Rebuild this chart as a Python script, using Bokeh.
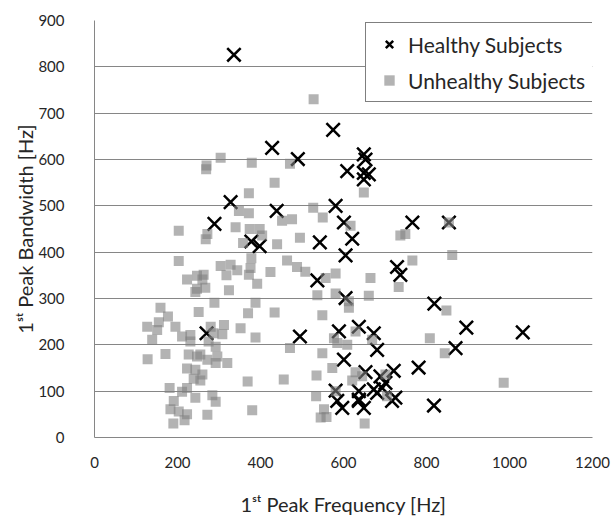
from bokeh.plotting import figure
from bokeh.models import Range1d, FixedTicker, Legend, LegendItem
from bokeh.embed import file_html
from bokeh.resources import INLINE

# Healthy subjects: 1st peak frequency [Hz], 1st peak bandwidth [Hz]
healthy_freq = [336, 575, 428, 490, 328, 439, 581, 289, 378, 398, 543, 537, 270, 495,
                649, 653, 649, 661, 649, 609, 601, 766, 854, 621, 605, 729, 737, 605,
                819, 896, 1032, 589, 637, 673, 681, 870, 601, 653, 689, 721, 781, 581,
                637, 673, 693, 585, 597, 637, 649, 725, 717, 818, 637, 681, 701]
healthy_bw = [826, 664, 625, 601, 508, 489, 500, 461, 423, 413, 421, 339, 225, 218,
              611, 600, 571, 568, 557, 575, 464, 464, 464, 429, 393, 368, 351, 301,
              289, 237, 227, 229, 239, 225, 189, 193, 168, 141, 132, 144, 151, 101,
              100, 104, 107, 79, 64, 82, 64, 86, 79, 69, 79, 96, 118]

# Unhealthy subjects
unhealthy_freq = [528, 304, 270, 269, 379, 471, 434, 372, 348, 372, 527, 550, 452, 476,
                  203, 340, 374, 398, 268, 404, 358, 440, 495, 203, 378, 304, 328, 344,
                  318, 376, 372, 424, 464, 488, 508, 557, 581, 223, 247, 263, 260, 247,
                  267, 243, 324, 392, 289, 388, 370, 434, 251, 159, 177, 155, 127, 151,
                  139, 195, 211, 231, 231, 280, 312, 308, 287, 352, 388, 275, 292, 471,
                  549, 128, 171, 227, 247, 255, 272, 296, 320, 223, 243, 239, 255, 260,
                  292, 369, 456, 535, 573, 181, 223, 211, 243, 284, 292, 191, 183, 203,
                  223, 190, 217, 272, 380, 534, 581, 553, 545, 559, 649, 617, 749, 737,
                  862, 766, 665, 733, 581, 613, 613, 661, 848, 585, 609, 629, 669, 808,
                  844, 629, 701, 621, 986, 705, 651, 537, 549, 577, 645, 854, 272]
unhealthy_bw = [730, 604, 587, 579, 593, 591, 550, 527, 489, 484, 496, 475, 468, 471,
                446, 454, 450, 450, 428, 436, 420, 417, 431, 381, 387, 370, 373, 361,
                350, 366, 351, 357, 382, 368, 358, 344, 354, 341, 349, 351, 341, 321,
                323, 314, 318, 332, 291, 291, 268, 270, 271, 280, 261, 249, 239, 232,
                211, 239, 218, 221, 207, 239, 243, 223, 225, 236, 216, 207, 196, 193,
                182, 169, 180, 179, 175, 179, 168, 175, 161, 149, 146, 127, 123, 136,
                161, 121, 125, 134, 150, 107, 107, 99, 86, 91, 77, 79, 61, 56,
                50, 30, 37, 49, 59, 89, 100, 61, 43, 44, 529, 457, 439, 436,
                394, 382, 344, 325, 311, 294, 280, 306, 274, 204, 200, 229, 211, 214,
                182, 141, 136, 123, 118, 89, 30, 307, 264, 214, 132, 464, 439]

x_ticks = [0, 200, 400, 600, 800, 1000, 1200]
y_ticks = [0, 100, 200, 300, 400, 500, 600, 700, 800, 900]

FONT = "Lato"
TXT = "#262626"
GRID = "#868686"

p = figure(width=612, height=518, output_backend="svg", toolbar_location=None,
           x_range=Range1d(0, 1200), y_range=Range1d(0, 900),
           min_border_left=94, min_border_right=20, min_border_top=20, min_border_bottom=78)
p.outline_line_color = None
p.background_fill_color = "white"
p.border_fill_color = "white"

p.xgrid.visible = False
p.ygrid.grid_line_color = GRID
p.ygrid.grid_line_width = 1
p.ygrid.ticker = FixedTicker(ticks=y_ticks)

p.xaxis.ticker = FixedTicker(ticks=x_ticks)
p.yaxis.ticker = FixedTicker(ticks=y_ticks)
for ax in (p.xaxis[0], p.yaxis[0]):
    ax.axis_line_color = GRID
    ax.axis_line_width = 1
    ax.major_tick_line_color = None
    ax.minor_tick_line_color = None
    ax.major_tick_out = 0
    ax.major_tick_in = 0
    ax.minor_tick_out = 0
    ax.minor_tick_in = 0
    ax.major_label_text_font = FONT
    ax.major_label_text_font_size = "15px"
    ax.major_label_text_color = TXT
    ax.axis_label_text_font = FONT
    ax.axis_label_text_font_size = "20px"
    ax.axis_label_text_font_style = "normal"
    ax.axis_label_text_color = TXT

p.xaxis.major_label_standoff = 19
p.yaxis.major_label_standoff = 30
p.xaxis.axis_label = "1ˢᵗ Peak Frequency [Hz]"
p.yaxis.axis_label = "1ˢᵗ Peak Bandwidth [Hz]"
p.xaxis.axis_label_standoff = 21
p.yaxis.axis_label_standoff = -2

r_h = p.scatter(healthy_freq, healthy_bw, marker="x", size=19, line_color="black",
                line_width=2.5)
r_u = p.scatter(unhealthy_freq, unhealthy_bw, marker="square", size=10,
                fill_color="#808080", fill_alpha=0.6, line_color=None)

legend = Legend(items=[LegendItem(label="Healthy Subjects", renderers=[r_h]),
                       LegendItem(label="Unhealthy Subjects", renderers=[r_u])],
                location=(271, 335), orientation="vertical",
                border_line_color="black", border_line_width=1,
                background_fill_color="white", background_fill_alpha=1.0,
                padding=8, spacing=10, margin=0,
                glyph_height=26, glyph_width=30, label_height=26, label_standoff=4,
                label_text_font=FONT, label_text_font_size="21px",
                label_text_color=TXT)
p.add_layout(legend, "center")

open("out.html", "w").write(file_html(p, INLINE))
